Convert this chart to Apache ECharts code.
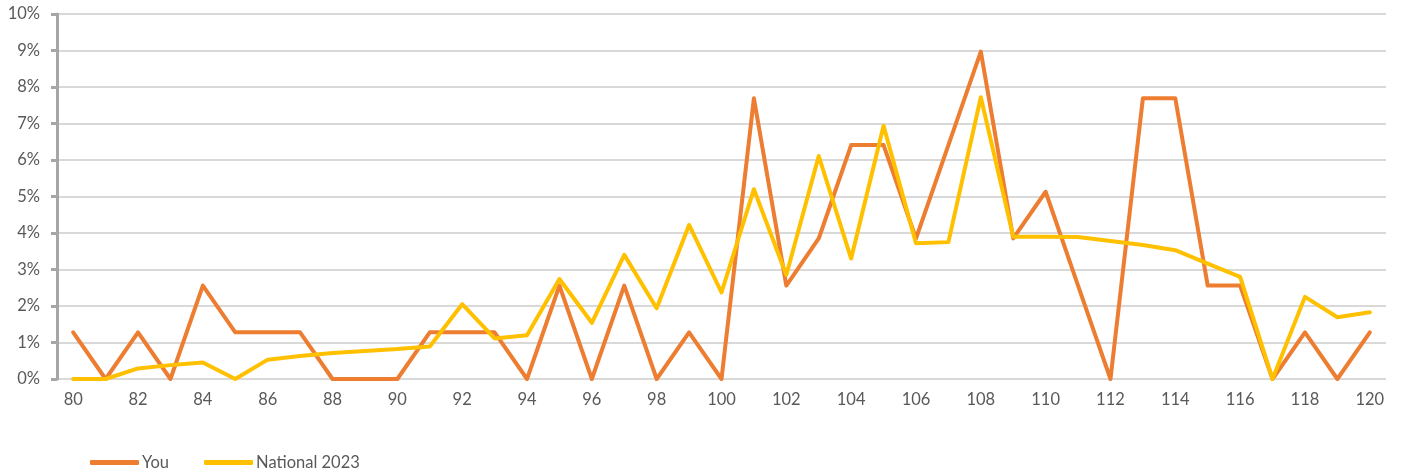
<!DOCTYPE html>
<html>
<head>
<meta charset="utf-8">
<script src="https://cdn.jsdelivr.net/npm/echarts@6/dist/echarts.min.js"></script>
<style>html,body{margin:0;padding:0;background:#fff}#c{width:1404px;height:475px}</style>
</head>
<body>
<div id="c"></div>
<script>
const categories = [];
for (let a = 80; a <= 120; a++) categories.push(String(a));
const youValues = [1.28,0,1.28,0,2.56,1.28,1.28,1.28,0,0,0,1.28,1.28,1.28,0,2.56,0,2.56,0,1.28,0,7.69,2.56,3.85,6.41,6.41,3.85,6.41,8.97,3.85,5.13,2.56,0,7.69,7.69,2.56,2.56,0,1.28,0,1.28];
const nationalValues = [0,0,0.29,0.38,0.45,0,0.53,0.63,0.71,0.77,0.82,0.89,2.05,1.11,1.2,2.74,1.54,3.4,1.94,4.22,2.37,5.2,2.85,6.11,3.3,6.94,3.72,3.75,7.72,3.9,3.9,3.89,3.78,3.67,3.53,3.16,2.8,0,2.25,1.69,1.83];
const seriesNames = ['You', 'National 2023'];
const font = 'Lato, "Open Sans", sans-serif';
const chart = echarts.init(document.getElementById('c'), null, {renderer: 'canvas'});
chart.setOption({
  animation: false,
  grid: {left: 57, right: 18, top: 14, bottom: 96},
  legend: {
    left: 85, top: 449,
    icon: 'roundRect', itemWidth: 49, itemHeight: 5, itemGap: 35,
    textStyle: {color: '#595959', fontSize: 16.5, fontFamily: font, padding: [0,0,0,-2]},
    data: seriesNames
  },
  xAxis: {
    type: 'category', data: categories, boundaryGap: true,
    axisLine: {show: false}, axisTick: {show: false},
    axisLabel: {interval: 1, color: '#595959', fontSize: 16.5, fontFamily: font, margin: 12}
  },
  yAxis: {
    type: 'value', min: 0, max: 10, interval: 1,
    axisLine: {show: true, lineStyle: {color: '#A6A6A6', width: 3}},
    axisTick: {show: true, length: 6, lineStyle: {color: '#A6A6A6', width: 3}},
    splitLine: {lineStyle: {color: '#D9D9D9', width: 2}},
    axisLabel: {formatter: '{value}%', color: '#595959', fontSize: 16.5, fontFamily: font, margin: 17}
  },
  series: [
    {name: seriesNames[0], type: 'line', data: youValues, showSymbol: false, symbol: 'none',
     lineStyle: {color: '#ED7D31', width: 4, cap: 'round', join: 'round'}, itemStyle: {color: '#ED7D31'}},
    {name: seriesNames[1], type: 'line', data: nationalValues, showSymbol: false, symbol: 'none',
     lineStyle: {color: '#FFC000', width: 4, cap: 'round', join: 'round'}, itemStyle: {color: '#FFC000'}}
  ]
});
</script>
</body>
</html>
